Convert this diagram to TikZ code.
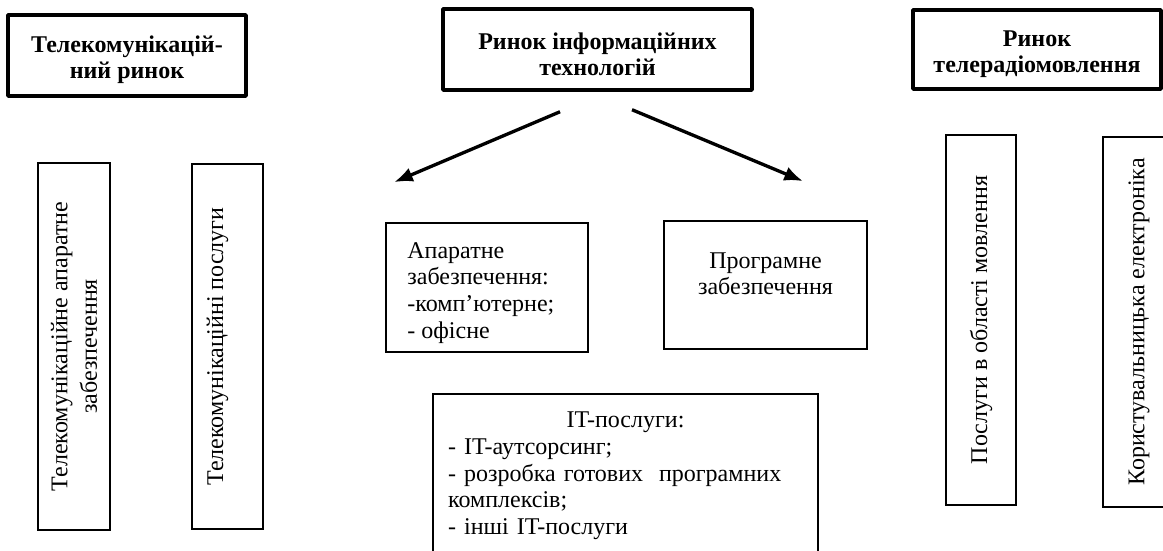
\documentclass[tikz,border=0pt]{standalone}
\usepackage{fontspec}
\setmainfont{Liberation Serif}
\usetikzlibrary{arrows.meta}
\newcommand{\headstrut}{\rule{0pt}{19pt}}
\tikzset{
  headbox/.style={draw, line width=2.6pt, line join=round, align=center,
    inner sep=0pt, font=\fontsize{18}{19.5}\selectfont\bfseries},
  itembox/.style={draw, line width=1.3pt, inner sep=0pt,
    font=\fontsize{18}{20}\selectfont},
  itemtext/.style={inner sep=0pt, font=\fontsize{18}{20}\selectfont},
  vbox/.style={itembox, rotate=90},
  branch/.style={line width=2.5pt, -{Latex[length=14pt,width=11pt]}}
}

\begin{document}
\begin{tikzpicture}[x=0.75pt, y=-0.75pt]
  \useasboundingbox (0,0) rectangle (1163,550);
  % three markets
  \node[headbox, minimum width=178.5pt, minimum height=60.75pt] (telMarket)
    at (127,55.5) {\headstrut Телекомунікацій-\\ний ринок};
  \node[headbox, minimum width=231.75pt, minimum height=60.75pt] (itMarket)
    at (597.5,49.5) {\headstrut Ринок інформаційних\\технологій};
  \node[headbox, minimum width=186pt, minimum height=59.25pt] (tvMarket)
    at (1037,49.5) {\headstrut Ринок\\телерадіомовлення};

  % telecom segments
  \node[vbox, minimum width=275.25pt, minimum height=54pt, align=center,
    font=\fontsize{18}{22}\selectfont] (telHw)
    at (74,346.5) {Телекомунікаційне апаратне\\забезпечення};
  \node[vbox, minimum width=273.75pt, minimum height=53.25pt,
    text depth=19pt] (telSrv)
    at (227.5,346.5) {Телекомунікаційні послуги};

  % IT segments
  \node[itembox, minimum width=151.5pt, minimum height=96.75pt] (itHw)
    at (487,287.5) {};
  \node[itemtext, anchor=north west, align=left] (itHwText)
    at ([xshift=16.5pt, yshift=-15pt] itHw.north west)
    {Апаратне\\забезпечення:\\-комп’ютерне;\\- офісне};
  \node[itembox, minimum width=152.25pt, minimum height=96pt] (itSw)
    at (765.5,285) {};
  \node[itemtext, anchor=north, align=center] (itSwText)
    at ([yshift=-24pt] itSw.north) {Програмне\\забезпечення};
  \node[itemtext, anchor=north, text width=266pt,
    inner xsep=11.25pt, inner ysep=13.5pt, align=left] (itSrv)
    at (625.5,394) {\makebox[\linewidth]{IT-послуги:}\\
      - IT-аутсорсинг;\\
      - розробка готових~ програмних\\
      комплексів;\\
      - інші IT-послуги};
  \draw[line width=1.3pt]
    ([yshift=-40pt] itSrv.south west) -- (itSrv.north west)
    -- (itSrv.north east) -- ([yshift=-40pt] itSrv.south east);

  \draw[branch] ([xshift=-28.1pt, yshift=-15pt] itMarket.south)
    -- ([xshift=6.75pt, yshift=30pt] itHw.north west);
  \draw[branch] ([xshift=25.9pt, yshift=-13.5pt] itMarket.south)
    -- ([xshift=28.1pt, yshift=29.25pt] itSw.north);

  % broadcasting segments
  \node[vbox, minimum width=277.5pt, minimum height=52.5pt] (tvSrv)
    at (981,320) {Послуги в області мовлення};
  \node[vbox, minimum width=277.5pt, minimum height=54pt] (tvEl)
    at (1139,322) {Користувальницька електроніка};
\end{tikzpicture}
\end{document}
